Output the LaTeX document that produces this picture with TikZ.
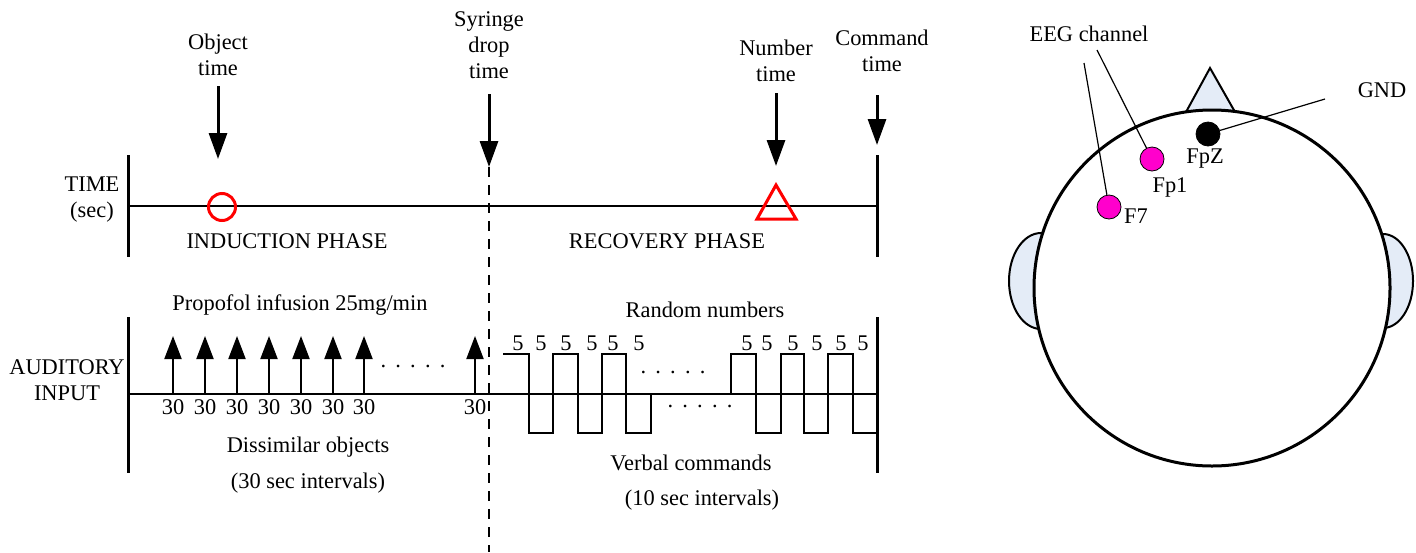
\documentclass[tikz,border=0pt]{standalone}
\usepackage{fontspec}
\setmainfont{Liberation Serif}
\usetikzlibrary{arrows.meta}

\definecolor{earblue}{RGB}{228,236,247}
\definecolor{probe}{RGB}{255,0,204}

\newcommand{\gapdots}{.\hspace{4.6pt}.\hspace{4.6pt}.\hspace{4.6pt}.\hspace{4.6pt}.}

\begin{document}
\begin{tikzpicture}[x=0.5pt, y=-0.5pt,
    lbl/.style = {inner sep=0pt, align=center, font=\fontsize{11.2}{13}\selectfont},
    bar/.style = {line width=1.5pt},
    axis/.style = {line width=1pt},
    downarrow/.style = {line width=1.5pt, -{Triangle[width=9pt,length=13pt]}},
    uparrow/.style = {line width=1pt, -{Triangle[width=8.5pt,length=11.5pt]}},
    electrode/.style = {circle, draw=black, line width=0.4pt, minimum size=12pt, inner sep=0pt}]

    \useasboundingbox (0,0) rectangle (1416,552);

    % event labels above the time axis
    \node[lbl] (objlbl) at (218,55) {Object\\time};
    \node[lbl] (syrlbl) at (489,45) {Syringe\\drop\\time};
    \node[lbl] (numlbl) at (776,61) {Number\\time};
    \node[lbl] (cmdlbl) at (882,51) {Command\\time};

    \coordinate (objA) at (218,86);  \coordinate (objB) at (218,159);
    \coordinate (syrA) at (489,94);  \coordinate (syrB) at (489,167);
    \coordinate (numA) at (776,93);  \coordinate (numB) at (776,166);
    \coordinate (cmdA) at (877,95);  \coordinate (cmdB) at (877,145);

    \draw[downarrow] (objA) -- (objB);
    \draw[downarrow] (syrA) -- (syrB);
    \draw[downarrow] (numA) -- (numB);
    \draw[downarrow] (cmdA) -- (cmdB);

    % time axis
    \node[lbl] (timelbl) at (92,200) {TIME\\(sec)};
    \coordinate (tL) at (128,206);
    \coordinate (tR) at (877,206);
    \draw[axis] (tL) -- (tR);
    \draw[bar] (128,155) -- (128,257);
    \draw[bar] (877,155) -- (877,257);

    \node[circle, draw=red, line width=1.5pt, minimum size=13.5pt, inner sep=0pt] (objmark) at (222,207) {};
    \draw[red, line width=1.5pt] (776,185) -- (796,219) -- (757,219) -- cycle;

    \node[lbl] (indlbl) at (287,241) {INDUCTION PHASE};
    \node[lbl] (reclbl) at (667,241) {RECOVERY PHASE};

    % syringe drop
    \draw[line width=1pt, dash pattern=on 5pt off 4pt] (syrB) -- (489,552);

    % auditory input axis
    \node[lbl] (audlbl) at (67,380) {AUDITORY\\INPUT};
    \coordinate (aL) at (128,394);
    \coordinate (aR) at (877,394);
    \draw[axis] (aL) -- (aR);
    \draw[bar] (128,317) -- (128,473);
    \draw[bar] (877,317) -- (877,473);

    \node[lbl] (proplbl) at (300,305) {Propofol infusion 25mg/min};
    \foreach \x [count=\i] in {173,205,237,269,301,333,364,475} {
        \coordinate (obj\i) at (\x,394);
        \coordinate (objtip\i) at (\x,336);
        \draw[uparrow] (obj\i) -- (objtip\i);
        \node[lbl] (sec\i) at (\x,407) {30};
    }
    \node[lbl] (objdots) at (413,366) {\gapdots};
    \node[lbl] (dislbl) at (308,447) {Dissimilar objects};
    \node[lbl] (disint) at (308,483) {(30 sec intervals)};

    % verbal commands
    \node[lbl] (randlbl) at (705,310) {Random numbers};
    \draw[axis] (503,354) -- (529,354) -- (529,433) -- (553,433) -- (553,354) -- (578,354)
        -- (578,433) -- (602,433) -- (602,354) -- (626,354) -- (626,433) -- (651,433) -- (651,394);
    \draw[axis] (731,394) -- (731,354) -- (756,354) -- (756,433) -- (781,433) -- (781,354)
        -- (804,354) -- (804,433) -- (828,433) -- (828,354) -- (853,354) -- (853,433) -- (877,433);
    \foreach \x [count=\i] in {518,541,566,592,613,639,747,767,793,817,841,863}
        \node[lbl] (five\i) at (\x,343) {5};
    \node[lbl] (hidots) at (673,372) {\gapdots};
    \node[lbl] (lodots) at (700,406) {\gapdots};
    \node[lbl] (verblbl) at (691,463) {Verbal commands};
    \node[lbl] (verbint) at (702,500) {(10 sec intervals)};

    % head with electrodes
    \filldraw[fill=earblue, line width=1pt] (1186,112) -- (1210,68) -- (1235,112) -- cycle;
    \filldraw[fill=earblue, line width=1pt] (1041,281) ellipse (32 and 48);
    \filldraw[fill=earblue, line width=1pt] (1383,281) ellipse (30 and 47);
    \filldraw[fill=white, line width=1.5pt] (1212,288) circle (178);

    \node[electrode, fill=black] (fpz) at (1208,134) {};
    \node[electrode, fill=probe] (fp1) at (1152,159) {};
    \node[electrode, fill=probe] (f7) at (1109,207) {};
    \node[lbl] (fpzlbl) at (1205,159) {FpZ};
    \node[lbl] (fp1lbl) at (1170,187) {Fp1};
    \node[lbl] (f7lbl) at (1136,216) {F7};

    \node[lbl] (eeglbl) at (1089,34) {EEG channel};
    \node[lbl] (gndlbl) at (1382,90) {GND};
    \coordinate (eegA) at (1084,63);
    \coordinate (eegB) at (1097,50);
    \coordinate (gndA) at (1325,99);
    \draw[line width=0.6pt] (eegA) -- (f7);
    \draw[line width=0.6pt] (eegB) -- (fp1);
    \draw[line width=0.6pt] (gndA) -- (fpz);
\end{tikzpicture}
\end{document}
